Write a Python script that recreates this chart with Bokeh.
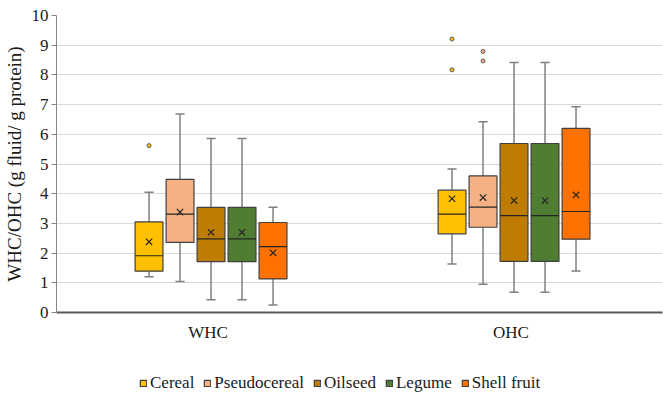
from bokeh.plotting import figure
from bokeh.models import ColumnDataSource, FactorRange, Range1d, Legend, LegendItem, SingleIntervalTicker
from bokeh.layouts import column
from bokeh.transform import dodge
from bokeh.embed import file_html
from bokeh.resources import INLINE

groups = ["WHC", "OHC"]
categories = ["Cereal", "Pseudocereal", "Oilseed", "Legume", "Shell fruit"]
colors = ["#FFC000", "#F6B183", "#BE7D00", "#4F7D31", "#FF7100"]

# per category: values for [WHC, OHC]
q1 = {
    "Cereal": [1.39, 2.65], "Pseudocereal": [2.36, 2.87], "Oilseed": [1.71, 1.72],
    "Legume": [1.71, 1.72], "Shell fruit": [1.13, 2.47]}
median = {
    "Cereal": [1.91, 3.31], "Pseudocereal": [3.31, 3.55], "Oilseed": [2.48, 3.26],
    "Legume": [2.48, 3.26], "Shell fruit": [2.22, 3.40]}
q3 = {
    "Cereal": [3.05, 4.12], "Pseudocereal": [4.48, 4.60], "Oilseed": [3.54, 5.69],
    "Legume": [3.54, 5.69], "Shell fruit": [3.03, 6.20]}
whisk_lo = {
    "Cereal": [1.20, 1.63], "Pseudocereal": [1.04, 0.95], "Oilseed": [0.43, 0.68],
    "Legume": [0.43, 0.68], "Shell fruit": [0.25, 1.40]}
whisk_hi = {
    "Cereal": [4.05, 4.83], "Pseudocereal": [6.68, 6.42], "Oilseed": [5.86, 8.42],
    "Legume": [5.86, 8.42], "Shell fruit": [3.54, 6.93]}
mean = {
    "Cereal": [2.38, 3.83], "Pseudocereal": [3.38, 3.87], "Oilseed": [2.70, 3.77],
    "Legume": [2.70, 3.77], "Shell fruit": [2.01, 3.96]}
outlier_cat = ["Cereal", "Cereal", "Cereal", "Pseudocereal", "Pseudocereal"]
outlier_group = ["WHC", "OHC", "OHC", "OHC", "OHC"]
outlier_val = [5.62, 9.21, 8.17, 8.79, 8.47]

FONT = "Liberation Serif"
TXT = "#1a1a1a"

p = figure(x_range=FactorRange(factors=groups), y_range=Range1d(0, 10),
           width=663, height=344,
           min_border_left=56, min_border_right=1, min_border_top=15, min_border_bottom=30,
           output_backend="svg", toolbar_location=None)
p.outline_line_color = None
p.background_fill_color = "white"
p.border_fill_color = "white"

p.xgrid.grid_line_color = None
p.ygrid.grid_line_color = "#D9D9D9"
p.ygrid.grid_line_width = 1

p.yaxis.ticker = SingleIntervalTicker(interval=1)
p.yaxis.minor_tick_line_color = None
p.yaxis.major_tick_out = 5
p.yaxis.major_tick_in = 0
p.yaxis.axis_line_color = "#868686"
p.yaxis.major_tick_line_color = "#868686"
p.yaxis.major_label_text_font = FONT
p.yaxis.major_label_text_font_size = "17px"
p.yaxis.major_label_text_color = TXT
p.yaxis.major_label_standoff = 3
p.yaxis.axis_label = "WHC/OHC (g fluid/ g protein)"
p.yaxis.axis_label_text_font = FONT
p.yaxis.axis_label_text_font_size = "19px"
p.yaxis.axis_label_text_font_style = "normal"
p.yaxis.axis_label_text_color = TXT
p.yaxis.axis_label_standoff = 4

p.xaxis.major_tick_line_color = None
p.xaxis.minor_tick_line_color = None
p.xaxis.axis_line_color = "#595959"
p.xaxis.axis_line_width = 2
p.xaxis.major_label_text_font = FONT
p.xaxis.major_label_text_font_size = "17px"
p.xaxis.major_label_text_color = TXT
p.xaxis.major_label_standoff = 4

W = 0.092
STEP = 0.1023
SHIFT = 0.01
CAP = 0.03

# legend lives in a second, axis-free figure below the chart
pl = figure(width=663, height=53, x_range=Range1d(0, 1), y_range=Range1d(0, 1),
            x_axis_type=None, y_axis_type=None, min_border=0,
            output_backend="svg", toolbar_location=None)
pl.outline_line_color = None
pl.grid.visible = False

items = []
for i, cat in enumerate(categories):
    off = (i - 2) * STEP + SHIFT
    src = ColumnDataSource(dict(
        g=groups, q1=q1[cat], med=median[cat], q3=q3[cat],
        lo=whisk_lo[cat], hi=whisk_hi[cat], mean=mean[cat]))
    xc = dodge("g", off, range=p.x_range)
    xl = dodge("g", off - W / 2, range=p.x_range)
    xr = dodge("g", off + W / 2, range=p.x_range)
    cl = dodge("g", off - CAP / 2, range=p.x_range)
    cr = dodge("g", off + CAP / 2, range=p.x_range)
    # whiskers
    p.segment(x0=xc, y0="q3", x1=xc, y1="hi", source=src, line_color="#7F7F7F", line_width=1.5)
    p.segment(x0=xc, y0="q1", x1=xc, y1="lo", source=src, line_color="#7F7F7F", line_width=1.5)
    p.segment(x0=cl, y0="hi", x1=cr, y1="hi", source=src, line_color="#7F7F7F", line_width=1.5)
    p.segment(x0=cl, y0="lo", x1=cr, y1="lo", source=src, line_color="#7F7F7F", line_width=1.5)
    # box
    p.vbar(x=xc, width=W, top="q3", bottom="q1", source=src,
           fill_color=colors[i], line_color="#404040", line_width=1.2)
    p.segment(x0=xl, y0="med", x1=xr, y1="med", source=src, line_color="#262626", line_width=1.2)
    p.scatter(x=xc, y="mean", source=src, marker="x", size=9, line_color="#262626", line_width=1.2)
    # outliers
    og = [g for c, g in zip(outlier_cat, outlier_group) if c == cat]
    ov = [v for c, v in zip(outlier_cat, outlier_val) if c == cat]
    if og:
        osrc = ColumnDataSource(dict(g=og, v=ov))
        p.scatter(x=xc, y="v", source=osrc, marker="circle", size=4,
                  fill_color=colors[i], line_color="#595959", line_width=1)
    # legend swatch renderer (kept outside the visible range)
    lr = pl.vbar(x=[-5], width=0.1, top=[-5], bottom=[-6],
                 fill_color=colors[i], line_color="#404040", line_width=1.2)
    items.append(LegendItem(label=cat, renderers=[lr]))

legend = Legend(items=items, orientation="horizontal", location=(83, 4),
                label_text_font=FONT, label_text_font_size="17px", label_text_color=TXT,
                glyph_width=8, glyph_height=8, label_standoff=3, spacing=9,
                padding=4, margin=0, border_line_color=None, background_fill_alpha=0,
                label_height=17)
pl.add_layout(legend, "center")

layout = column(p, pl, spacing=0)
open("out.html", "w").write(file_html(layout, INLINE))
